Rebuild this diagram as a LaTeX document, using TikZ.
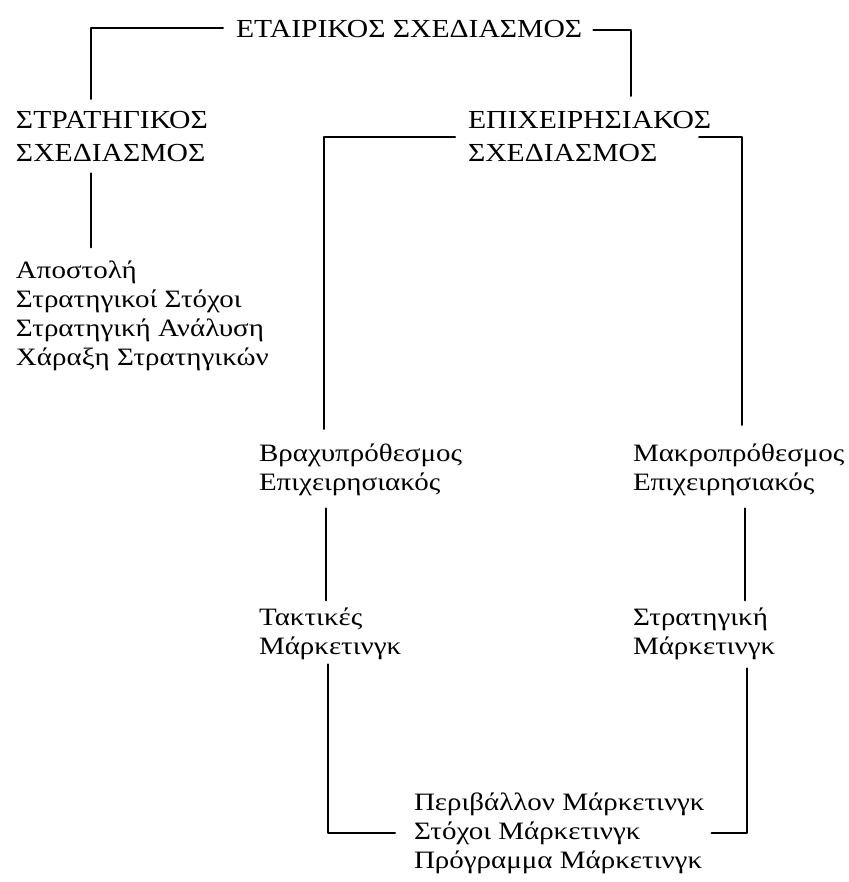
\documentclass[tikz,border=0pt]{standalone}
\usepackage{fontspec}
\setmainfont{Liberation Serif}
\newfontfamily\grcaps[FakeStretch=1.14]{Liberation Serif}
\newfontfamily\grlow[FakeStretch=1.16]{Liberation Serif}
\usetikzlibrary{calc}
\begin{document}
\begin{tikzpicture}[x=0.5pt,y=-0.5pt,line join=round,line cap=round,line width=1pt,
    caps/.style={inner sep=0,anchor=base west,align=left,font=\grcaps\fontsize{13}{16.5}\selectfont},
    lows/.style={inner sep=0,anchor=base west,align=left,font=\grlow\fontsize{12.5}{14.5}\selectfont}]
    \useasboundingbox (0,0) rectangle (849,882);
    % headings (base = last line)
    \node[caps] (corp) at (235,38) {ΕΤΑΙΡΙΚΟΣ ΣΧΕΔΙΑΣΜΟΣ};
    \node[caps] (strat) at (15,162) {ΣΤΡΑΤΗΓΙΚΟΣ\\ΣΧΕΔΙΑΣΜΟΣ};
    \node[caps] (oper) at (467,162) {ΕΠΙΧΕΙΡΗΣΙΑΚΟΣ\\ΣΧΕΔΙΑΣΜΟΣ};
    % lower levels
    \node[lows] (stratlist) at (15,365) {Αποστολή\\Στρατηγικοί Στόχοι\\Στρατηγική Ανάλυση\\Χάραξη Στρατηγικών};
    \node[lows] (shortop) at (258,490) {Βραχυπρόθεσμος\\Επιχειρησιακός};
    \node[lows] (longop) at (632,490) {Μακροπρόθεσμος\\Επιχειρησιακός};
    \node[lows] (tact) at (258,654) {Τακτικές\\Μάρκετινγκ};
    \node[lows] (stratmk) at (632,654) {Στρατηγική\\Μάρκετινγκ};
    \node[lows] (mkplan) at (413,868) {Περιβάλλον Μάρκετινγκ\\Στόχοι Μάρκετινγκ\\Πρόγραμμα Μάρκετινγκ};
    \coordinate (stratin) at (91,99);
    \coordinate (operin) at (631,96);
    \coordinate (shortin) at (324,429);
    \coordinate (longin) at (742,425);
    \draw ([xshift=-6pt,yshift=1pt]corp.west) -| (stratin);
    \draw ([xshift=5pt]corp.east) -| (operin);
    \draw[shorten <=5pt,shorten >=6pt] (strat.south -| stratin) -- (stratlist.north -| stratin);
    \draw ([xshift=-6pt]oper.west) -| (shortin);
    \draw ([xshift=-6.5pt]oper.east) -| (longin);
    \draw[shorten <=6pt,shorten >=3pt] ([xshift=34pt]shortop.south west) -- ([xshift=34pt]tact.north west);
    \draw[shorten <=6pt,shorten >=3pt] ([xshift=56.5pt]longop.south west) -- ([xshift=56.5pt]stratmk.north west);
    \draw[shorten <=2pt] ([xshift=35pt]tact.south west) |- ([xshift=-9pt]mkplan.west);
    \draw[shorten <=4pt] ([xshift=57.5pt]stratmk.south west) |- ([xshift=3pt]mkplan.east);
\end{tikzpicture}
\end{document}
